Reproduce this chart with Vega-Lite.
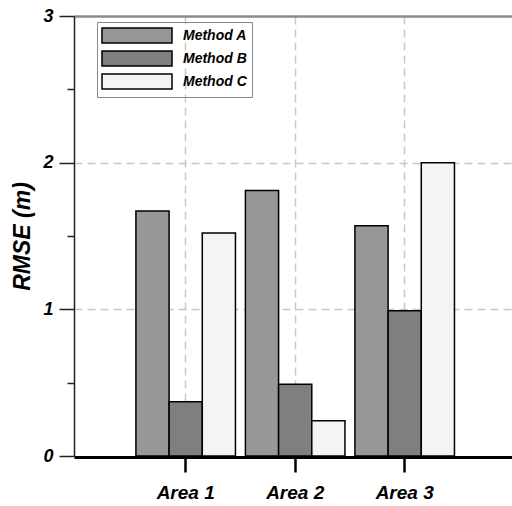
{
  "$schema": "https://vega.github.io/schema/vega-lite/v6.json",
  "autosize": {"type": "none"},
  "padding": {"left": 74, "top": 16, "right": 0, "bottom": 50},
  "width": 438,
  "height": 440,
  "background": "white",
  "config": {
    "font": "Liberation Sans",
    "view": {"stroke": null}
  },
  "data": {
    "values": [
      {"area": "Area 1", "method": "Method A", "rmse": 1.67},
      {"area": "Area 1", "method": "Method B", "rmse": 0.37},
      {"area": "Area 1", "method": "Method C", "rmse": 1.52},
      {"area": "Area 2", "method": "Method A", "rmse": 1.81},
      {"area": "Area 2", "method": "Method B", "rmse": 0.49},
      {"area": "Area 2", "method": "Method C", "rmse": 0.24},
      {"area": "Area 3", "method": "Method A", "rmse": 1.57},
      {"area": "Area 3", "method": "Method B", "rmse": 0.99},
      {"area": "Area 3", "method": "Method C", "rmse": 2.0}
    ]
  },
  "mark": {"type": "bar", "stroke": "black", "strokeWidth": 1.5},
  "encoding": {
    "x": {
      "field": "area",
      "type": "nominal",
      "scale": {"paddingInner": 0, "paddingOuter": 0.5, "align": 0.52},
      "axis": {
        "title": null,
        "labelAngle": 0,
        "labelFont": "Liberation Sans",
        "labelFontSize": 19,
        "labelFontWeight": "bold",
        "labelFontStyle": "italic",
        "labelColor": "black",
        "labelPadding": 11,
        "tickSize": 15,
        "tickWidth": 2.5,
        "tickColor": "black",
        "domainColor": "black",
        "domainWidth": 3,
        "offset": 1,
        "bandPosition": 0.5,
        "grid": true,
        "gridColor": "#c8c8c8",
        "gridDash": [8, 5],
        "gridWidth": 1.5
      }
    },
    "xOffset": {
      "field": "method",
      "type": "nominal",
      "scale": {"paddingInner": 0, "paddingOuter": 0.15}
    },
    "y": {
      "field": "rmse",
      "type": "quantitative",
      "scale": {"domain": [0, 3], "nice": false, "zero": true},
      "axis": {
        "title": "RMSE (m)",
        "titleFont": "Liberation Sans",
        "titleFontSize": 23,
        "titleFontWeight": "bold",
        "titleFontStyle": "italic",
        "titleColor": "black",
        "titleAngle": 270,
        "titleAlign": "center",
        "titleBaseline": "middle",
        "titleX": -52,
        "titleY": 220,
        "values": [0, 0.5, 1, 1.5, 2, 2.5, 3],
        "labelExpr": "datum.value % 1 === 0 ? format(datum.value, 'd') : ''",
        "labelFont": "Liberation Sans",
        "labelFontSize": 18,
        "labelFontWeight": "bold",
        "labelFontStyle": "italic",
        "labelColor": "black",
        "labelPadding": 6,
        "tickSize": {"condition": {"test": "datum.value % 1 === 0", "value": 15}, "value": 7},
        "tickWidth": 1.5,
        "tickColor": "#222",
        "domainColor": "#222",
        "domainWidth": 1.5,
        "grid": true,
        "gridColor": {"condition": {"test": "datum.value === 3", "value": "#8a8a8a"}, "value": "#c8c8c8"},
        "gridDash": {"condition": {"test": "datum.value === 3", "value": []}, "value": [8, 5]},
        "gridWidth": {"condition": {"test": "datum.value === 3", "value": 2.5}, "value": 1.5},
        "gridOpacity": {"condition": {"test": "datum.value % 1 !== 0 || datum.value === 0", "value": 0}, "value": 1}
      }
    },
    "color": {
      "field": "method",
      "type": "nominal",
      "scale": {
        "domain": ["Method A", "Method B", "Method C"],
        "range": ["#979797", "#7f7f7f", "#f4f4f4"]
      },
      "legend": {
        "title": null,
        "orient": "none",
        "legendX": 23,
        "legendY": 6,
        "padding": 5,
        "strokeColor": "#888888",
        "fillColor": null,
        "rowPadding": 2,
        "symbolType": "M-1.133,-1H8.2V1H-1.133Z",
        "symbolSize": 225,
        "symbolStrokeColor": "black",
        "symbolStrokeWidth": 1.5,
        "symbolOpacity": 1,
        "labelOffset": 64,
        "labelFont": "Liberation Sans",
        "labelFontSize": 14,
        "labelFontWeight": "bold",
        "labelFontStyle": "italic",
        "labelColor": "black"
      }
    }
  }
}
